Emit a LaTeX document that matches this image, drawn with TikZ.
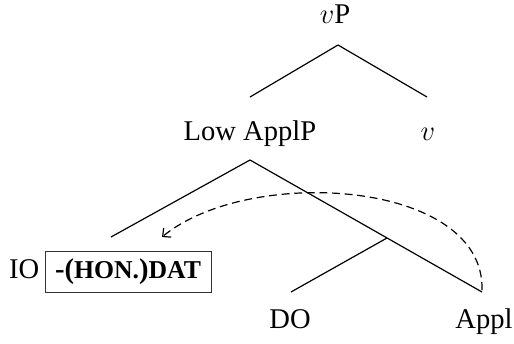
\documentclass[tikz,border=0pt]{standalone}
\usepackage{fontspec}
\setmainfont{Liberation Serif}
\usetikzlibrary{arrows.meta}
\newcommand{\fsc}[1]{{\fontsize{10.8}{12}\selectfont #1}}
\begin{document}
\begin{tikzpicture}[x=0.42pt,y=-0.42pt,
  lbl/.style={inner sep=0pt, font=\fontsize{12}{14}\selectfont},
  branch/.style={line width=0.5pt},
  movement/.style={line width=0.5pt, dash pattern=on 3.3pt off 2pt,
    -{Straight Barb[length=2.6pt,width=5pt]}},
  tagbox/.style={draw=black!80, line width=0.4pt, minimum width=69.7pt, minimum height=17.6pt,
    inner sep=0pt, font=\fontsize{12}{14}\selectfont\bfseries}]
\useasboundingbox (0,0) rectangle (514,343);

% labels
\node[lbl, anchor=base] (vp)   at (335,24)  {$v$P};
\node[lbl, anchor=base] (low)  at (250,140) {Low ApplP};
\node[lbl, anchor=base] (v)    at (428,140) {$v$};
\node[tagbox] (dat) at (128,272) {-(\fsc{HON.})\fsc{DAT}};
\node[lbl, anchor=base east] (io) at ([xshift=-2]dat.base west) {IO};
\node[lbl, anchor=base] (do)   at (290,328) {DO};
\node[lbl, anchor=base] (appl) at (484,328) {Appl};

% branch points
\coordinate (vp-foot)   at (338,45);
\coordinate (low-head)  at (250,97);
\coordinate (v-head)    at (427,97);
\coordinate (low-foot)  at (250,160);
\coordinate (io-head)   at (111,237);
\coordinate (appl-head) at (482,292);
\coordinate (bar-node)  at (387,238);
\coordinate (do-head)   at (291,292);
\coordinate (move-from) at (482,290);
\coordinate (move-to)   at (162,237);

% tree
\draw[branch] (vp-foot) -- (low-head);
\draw[branch] (vp-foot) -- (v-head);
\draw[branch] (low-foot) -- (io-head);
\draw[branch] (low-foot) -- (appl-head);
\draw[branch] (bar-node) -- (do-head);

% movement of the applicative head
\draw[movement] (move-from) .. controls (485,180) and (250,165) .. (move-to);
\end{tikzpicture}
\end{document}
